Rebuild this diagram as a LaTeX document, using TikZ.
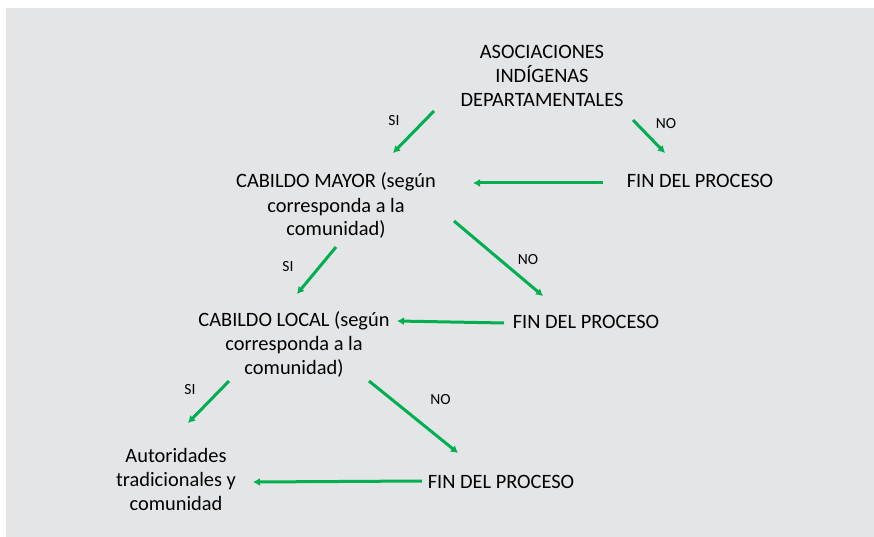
\documentclass[tikz,border=0pt]{standalone}
\usepackage{fontspec}
\setmainfont{Carlito}
\usetikzlibrary{arrows.meta}
\definecolor{bggray}{RGB}{228,229,231}
\definecolor{arrgreen}{RGB}{0,176,80}
\begin{document}
\begin{tikzpicture}[x=1pt, y=-1pt,
    txt/.style={inner sep=0pt, align=center, anchor=base, font=\fontsize{20.4}{24}\selectfont},
    lbl/.style={inner sep=0pt, font=\fontsize{15.5}{18}\selectfont},
    arr/.style={-{Latex[length=7pt, width=8pt]}, arrgreen, line width=3pt}]
        \useasboundingbox (0, 0) rectangle (874, 537);
        \fill[bggray] (6, 8) rectangle (874, 537);
        % base of a node = baseline of its last line
        \node[txt] (asoc) at (542, 107) {ASOCIACIONES\\INDÍGENAS\\DEPARTAMENTALES};
        \node[txt] (mayor) at (336, 236) {CABILDO MAYOR (según\\corresponda a la\\comunidad)};
        \node[txt] (fina) at (700, 188) {FIN DEL PROCESO};
        \node[txt] (local) at (294, 374) {CABILDO LOCAL (según\\corresponda a la\\comunidad)};
        \node[txt] (finb) at (586, 328) {FIN DEL PROCESO};
        \node[txt] (aut) at (176, 510) {Autoridades\\tradicionales y\\comunidad};
        \node[txt] (finc) at (501, 488) {FIN DEL PROCESO};
        \draw[arr] ([shift={(-108, 4)}]asoc.base) -- node[lbl, text=black, xshift=-19.5pt, yshift=11pt] {SI} ([shift={(57, -83)}]mayor.base);
        \draw[arr] ([shift={(91, 13)}]asoc.base) -- node[lbl, text=black, xshift=17pt, yshift=12.5pt] {NO} ([shift={(-35, -35)}]fina.base);
        \draw[arr] ([shift={(-97, -5)}]fina.base) -- ([shift={(137, -53)}]mayor.base);
        \draw[arr] ([shift={(0, 11)}]mayor.base) -- node[lbl, text=black, xshift=-28.5pt, yshift=3.5pt] {SI} ([shift={(3, -80)}]local.base);
        \draw[arr] ([shift={(118, -15)}]mayor.base) -- node[lbl, text=black, xshift=29.5pt, yshift=-1.5pt] {NO} ([shift={(-43, -32)}]finb.base);
        \draw[arr] ([shift={(-82, -5)}]finb.base) -- ([shift={(103, -53)}]local.base);
        \draw[arr] ([shift={(-65, 7)}]local.base) -- node[lbl, text=black, xshift=-18.5pt, yshift=12pt] {SI} ([shift={(12, -87)}]aut.base);
        \draw[arr] ([shift={(75, 7)}]local.base) -- node[lbl, text=black, xshift=27pt, yshift=17pt] {NO} ([shift={(-43, -35)}]finc.base);
        \draw[arr] ([shift={(-79, -7)}]finc.base) -- ([shift={(77, -28)}]aut.base);
\end{tikzpicture}
\end{document}
